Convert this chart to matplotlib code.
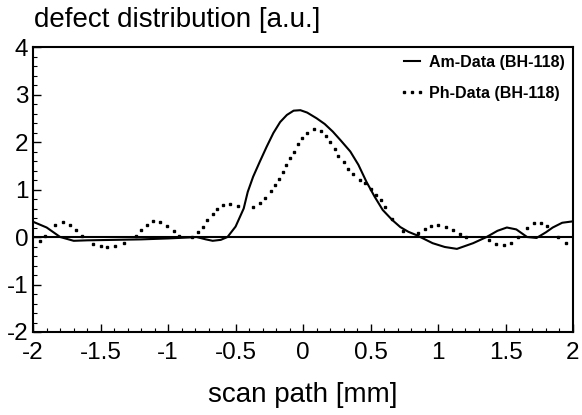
import numpy as np
import matplotlib
matplotlib.use("Agg")
import matplotlib.pyplot as plt
from matplotlib.ticker import MultipleLocator

plt.rcParams['font.family'] = ['Liberation Sans', 'DejaVu Sans']

# Am-Data (solid line)
am_x = [-2.0, -1.9, -1.8, -1.7, -1.6, -1.4, -1.2, -1.0, -0.85, -0.79, -0.72,
        -0.67, -0.61, -0.56, -0.50, -0.44, -0.41, -0.37, -0.32, -0.27, -0.22,
        -0.17, -0.12, -0.07, -0.02, 0.03, 0.1, 0.16, 0.22, 0.28, 0.35, 0.41,
        0.47, 0.53, 0.59, 0.66, 0.72, 0.78, 0.84, 0.96, 1.05, 1.14, 1.26,
        1.36, 1.44, 1.51, 1.58, 1.66, 1.73, 1.80, 1.85, 1.92, 2.0]
am_y = [0.32, 0.2, 0.0, -0.08, -0.07, -0.06, -0.05, -0.03, -0.01, 0.0, -0.05,
        -0.08, -0.06, 0.0, 0.22, 0.6, 0.95, 1.27, 1.59, 1.9, 2.19,
        2.42, 2.57, 2.66, 2.67, 2.62, 2.5, 2.38, 2.22, 2.03, 1.8, 1.52,
        1.16, 0.85, 0.57, 0.36, 0.21, 0.11, 0.04, -0.13, -0.21, -0.25, -0.13,
        0.0, 0.13, 0.2, 0.16, 0.0, -0.02, 0.1, 0.2, 0.3, 0.33]

# Ph-Data (dotted samples)
ph_x = [-1.95, -1.91, -1.84, -1.78, -1.73, -1.68, -1.64, -1.56, -1.50, -1.45,
        -1.39, -1.33, -1.24, -1.20, -1.16, -1.11, -1.06, -1.01, -0.96, -0.92,
        -0.82, -0.78, -0.74, -0.71, -0.67, -0.64, -0.59, -0.54, -0.48, -0.37,
        -0.32, -0.28, -0.24, -0.21, -0.18, -0.15, -0.13, -0.10, -0.07, -0.04,
        -0.01, 0.03, 0.08, 0.13, 0.17, 0.20, 0.24, 0.26, 0.30, 0.33, 0.37,
        0.42, 0.46, 0.50, 0.54, 0.58, 0.61, 0.66, 0.74, 0.85, 0.90, 0.95,
        1.00, 1.06, 1.11, 1.16, 1.21, 1.38, 1.43, 1.49, 1.54, 1.59, 1.66,
        1.71, 1.76, 1.81, 1.89, 1.95]
ph_y = [-0.08, 0.02, 0.25, 0.31, 0.25, 0.15, 0.03, -0.15, -0.18, -0.2,
        -0.18, -0.12, 0.03, 0.15, 0.25, 0.33, 0.32, 0.24, 0.12, 0.03,
        0.0, 0.1, 0.22, 0.36, 0.48, 0.59, 0.67, 0.7, 0.65, 0.64,
        0.72, 0.83, 0.97, 1.1, 1.23, 1.37, 1.52, 1.66, 1.8, 1.95,
        2.09, 2.2, 2.27, 2.23, 2.12, 2.0, 1.85, 1.71, 1.58, 1.44, 1.32,
        1.21, 1.13, 1.02, 0.88, 0.78, 0.64, 0.37, 0.12, 0.08, 0.17, 0.24,
        0.25, 0.22, 0.15, 0.06, 0.01, -0.07, -0.14, -0.16, -0.12, 0.0, 0.2,
        0.29, 0.3, 0.24, 0.0, -0.12]

x_ticks = [-2, -1.5, -1, -0.5, 0, 0.5, 1, 1.5, 2]
x_labels = ['-2', '-1.5', '-1', '-0.5', '0', '0.5', '1', '1.5', '2']
y_ticks = [-2, -1, 0, 1, 2, 3, 4]
y_labels = ['-2', '-1', '0', '1', '2', '3', '4']

fig = plt.figure(figsize=(5.82, 4.15), dpi=100)
ax = fig.add_axes([0.057, 0.2, 0.9275, 0.6867])

ax.plot(am_x, am_y, color='black', linewidth=1.5, label='Am-Data (BH-118)')
ax.plot(ph_x, ph_y, linestyle='none', marker='s', markersize=1.8,
        color='black', label='Ph-Data (BH-118)')
ax.axhline(0, color='black', linewidth=1.5)

ax.set_xlim(-2, 2)
ax.set_ylim(-2, 4)
ax.set_xticks(x_ticks)
ax.set_xticklabels(x_labels)
ax.set_yticks(y_ticks)
ax.set_yticklabels(y_labels)
ax.xaxis.set_minor_locator(MultipleLocator(0.1))
ax.yaxis.set_minor_locator(MultipleLocator(0.2))
ax.tick_params(which='both', direction='in', labelsize=17.5)
ax.tick_params(which='major', length=6, width=1)
ax.tick_params(which='minor', length=3, width=0.8)
ax.tick_params(axis='y', pad=3.5)
ax.tick_params(axis='x', pad=7.5)
for s in ax.spines.values():
    s.set_linewidth(1.5)

fig.text(0.057 + 0.9275 / 2, 0.031, 'scan path [mm]', fontsize=20,
         ha='center', va='baseline')
fig.text(0.058, 0.935, 'defect distribution [a.u.]', fontsize=20,
         ha='left', va='baseline')

leg = ax.legend(loc='upper right', frameon=False, numpoints=3,
                handlelength=1.6, handletextpad=0.25, labelspacing=1.0,
                borderaxespad=0.15, borderpad=0.35, markerscale=0.8,
                prop={'weight': 'bold', 'size': 11.5})

fig.savefig('out.png', dpi=100)
